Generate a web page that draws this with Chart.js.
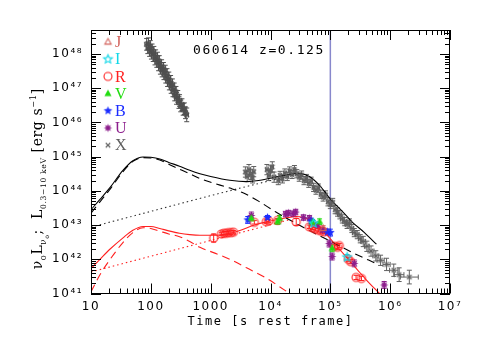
<!DOCTYPE html>
<html><head><meta charset="utf-8">
<script src="https://cdn.jsdelivr.net/npm/chart.js@4/dist/chart.umd.min.js"></script>
<style>html,body{margin:0;padding:0;background:#fff;}canvas{display:block;}</style>
</head><body>
<canvas id="c" width="491" height="360"></canvas>
<script>
// ---------------- DATA (log10 values) ----------------
const xTickValues = [1e1, 1e2, 1e3, 1e4, 1e5, 1e6, 1e7];
const xTickLabels = ['10', '100', '1000', '10⁴', '10⁵', '10⁶', '10⁷'];
const yTickValues = [1e41, 1e42, 1e43, 1e44, 1e45, 1e46, 1e47, 1e48];
const yTickLabels = ['10⁴¹', '10⁴²', '10⁴³', '10⁴⁴', '10⁴⁵', '10⁴⁶', '10⁴⁷', '10⁴⁸'];
const titleText = '060614 z=0.125';
const markerTime = 1e5;

// X-ray, early steep decay
const xEarlyLogT = [1.93,1.95,1.96,1.98,1.99,2.01,2.02,2.04,2.05,2.07,2.08,2.10,2.11,2.13,2.14,2.16,2.18,2.19,2.21,2.22,2.24,2.25,2.27,2.28,2.30,2.31,2.33,2.34,2.36,2.37,2.39,2.40,2.42,2.43,2.45,2.47,2.48,2.50,2.52,2.54,2.56,2.58,2.60];
const xEarlyLogL = [48.28,48.18,48.30,48.10,48.22,48.02,48.12,47.95,48.05,47.85,47.95,47.78,47.88,47.68,47.78,47.58,47.66,47.50,47.58,47.42,47.50,47.32,47.40,47.22,47.30,47.12,47.20,47.02,47.10,46.92,46.98,46.80,46.88,46.70,46.76,46.58,46.64,46.48,46.52,46.38,46.40,46.28,46.22];
const xEarlyErr  = [0.17,0.17,0.17,0.17,0.17,0.17,0.17,0.17,0.17,0.17,0.17,0.17,0.17,0.17,0.17,0.17,0.17,0.17,0.17,0.17,0.17,0.17,0.17,0.17,0.17,0.17,0.17,0.17,0.17,0.17,0.17,0.17,0.17,0.17,0.17,0.17,0.17,0.17,0.17,0.17,0.17,0.17,0.20];
const xEarlyTErr = [0.03,0.03,0.03,0.03,0.03,0.03,0.03,0.03,0.03,0.03,0.03,0.03,0.03,0.03,0.03,0.03,0.03,0.03,0.03,0.03,0.03,0.03,0.03,0.03,0.03,0.03,0.03,0.03,0.03,0.03,0.03,0.03,0.03,0.03,0.03,0.03,0.03,0.03,0.03,0.03,0.03,0.03,0.03];

// X-ray, plateau + late decay
const xLateLogT = [3.58,3.61,3.64,3.67,3.70,3.72,3.94,3.97,4.00,4.03,4.06,4.13,4.16,4.20,4.24,4.28,4.32,4.36,4.40,4.44,4.48,4.52,4.56,4.60,4.64,4.68,4.72,4.76,4.80,4.84,4.88,4.92,4.96,5.00,5.04,5.08,5.12,5.16,5.20,5.24,5.28,5.32,5.36,5.40,5.45,5.50,5.55,5.61,5.68,5.76,5.84,5.94,6.06,6.15,6.32];
const xLateLogL = [44.55,44.42,44.62,44.48,44.38,44.56,44.62,44.45,44.58,44.70,44.40,44.30,44.45,44.35,44.52,44.42,44.58,44.48,44.62,44.50,44.40,44.46,44.30,44.36,44.22,44.28,44.10,44.02,44.08,43.90,43.82,43.88,43.68,43.60,43.66,43.45,43.38,43.30,43.18,43.10,43.02,43.06,42.90,42.78,42.72,42.60,42.52,42.38,42.24,42.10,41.97,41.85,41.68,41.55,41.48];
const xLateErr  = [0.15,0.15,0.15,0.15,0.15,0.15,0.15,0.15,0.15,0.15,0.15,0.12,0.12,0.12,0.12,0.12,0.12,0.12,0.12,0.12,0.12,0.12,0.12,0.12,0.12,0.12,0.12,0.12,0.12,0.12,0.12,0.12,0.12,0.12,0.12,0.12,0.12,0.12,0.12,0.12,0.12,0.12,0.12,0.12,0.12,0.12,0.15,0.15,0.15,0.15,0.15,0.18,0.18,0.20,0.20];
const xLateTErr = [0.02,0.02,0.02,0.02,0.02,0.02,0.02,0.02,0.02,0.02,0.02,0.02,0.02,0.02,0.02,0.02,0.02,0.02,0.02,0.02,0.02,0.02,0.02,0.02,0.02,0.02,0.02,0.02,0.02,0.02,0.02,0.02,0.02,0.02,0.02,0.02,0.02,0.03,0.03,0.03,0.03,0.03,0.03,0.03,0.03,0.03,0.04,0.04,0.05,0.05,0.06,0.06,0.07,0.08,0.15];

// Optical / NIR bands
const rLogT = [3.05,3.18,3.22,3.26,3.30,3.34,3.38,3.73,3.93,3.97,4.12,4.43,4.65,4.70,4.75,4.80,4.85,4.90,5.07,5.12,5.15,5.30,5.34,5.43,5.52];
const rLogL = [42.62,42.74,42.76,42.76,42.78,42.78,42.79,43.08,43.10,43.12,43.14,43.09,42.95,42.92,42.88,42.85,42.82,42.80,42.38,42.35,42.40,42.00,41.93,41.47,41.44];
const rErr  = [0.12,0.05,0.05,0.05,0.05,0.05,0.05,0.05,0.05,0.05,0.05,0.10,0.05,0.05,0.05,0.05,0.05,0.05,0.06,0.06,0.06,0.06,0.06,0.06,0.06];
const vLogT = [3.68,4.12,4.15,4.70,4.82,5.03];
const vLogL = [43.20,43.10,43.20,43.08,43.10,42.32];
const vErr  = [0.08,0.08,0.08,0.08,0.08,0.10];
const bLogT = [3.62,3.95,4.68,4.95,5.00];
const bLogL = [43.15,43.22,43.12,42.80,42.78];
const bErr  = [0.10,0.06,0.08,0.08,0.10];
const uLogT = [3.68,4.25,4.30,4.38,4.42,4.55,4.65,4.78,4.87,4.98,5.03,5.40,5.90];
const uLogL = [43.28,43.32,43.35,43.33,43.38,43.22,43.20,43.00,42.85,42.46,42.08,41.88,41.25];
const uErr  = [0.10,0.08,0.08,0.08,0.08,0.08,0.08,0.08,0.08,0.10,0.10,0.10,0.10];
const iLogT = [4.72,5.28];
const iLogL = [43.05,42.06];
const iErr  = [0.08,0.08];
const jLogT = [4.88];
const jLogL = [42.90];
const jErr  = [0.08];

// Model curves
const mXTotT = [1.0,1.15,1.32,1.53,1.7,1.87,2.0,2.15,2.3,2.48,2.65,2.82,3.0,3.32,3.6,3.8,4.0,4.2,4.4,4.5,4.65,4.82,5.0,5.2,5.37,5.57,5.77];
const mXTotL = [43.45,43.75,44.10,44.59,44.88,44.99,44.98,44.93,44.83,44.72,44.60,44.50,44.42,44.31,44.27,44.30,44.37,44.44,44.50,44.50,44.42,44.16,43.76,43.40,43.08,42.78,42.44];
const mXPromptT = [1.0,1.15,1.32,1.53,1.7,1.87,2.0,2.15,2.3,2.48,2.65,2.82,3.0,3.32,3.53,3.8,4.09,4.5,5.0,5.4,5.76];
const mXPromptL = [43.35,43.68,44.05,44.55,44.86,44.97,44.96,44.90,44.78,44.63,44.50,44.36,44.25,44.08,43.95,43.70,43.38,42.98,42.53,42.17,41.88];
const mXPlatT = [1.0,2.0,3.0,4.0,4.48];
const mXPlatL = [42.94,43.40,43.86,44.30,44.50];
const mOTotT = [1.0,1.15,1.32,1.53,1.7,1.87,2.0,2.15,2.3,2.48,2.65,2.82,3.07,3.32,3.5,3.73,3.95,4.12,4.3,4.43,4.55,4.65,4.82,5.0,5.15,5.3,5.45,5.6,5.82];
const mOTotL = [41.73,42.00,42.30,42.62,42.85,42.96,42.96,42.90,42.83,42.76,42.72,42.70,42.70,42.76,42.85,43.00,43.10,43.16,43.22,43.25,43.22,43.14,42.95,42.60,42.30,42.00,41.70,41.40,41.00];
const mOPromptT = [1.0,1.15,1.32,1.53,1.7,1.87,2.0,2.15,2.3,2.48,2.65,2.82,3.07,3.32,3.6,3.93,4.15,4.32];
const mOPromptL = [41.05,41.55,42.00,42.48,42.78,42.92,42.90,42.82,42.74,42.66,42.52,42.35,42.18,42.00,41.75,41.45,41.20,41.00];
const mOPlatT = [1.0,2.0,3.0,4.0,4.3];
const mOPlatL = [41.63,42.09,42.55,43.01,43.15];

// ---------------- helpers ----------------
const pts = (lt, ll) => lt.map((t, i) => ({ x: Math.pow(10, t), y: Math.pow(10, ll[i]) }));

function marker(kind, color, r) {
  const s = Math.ceil(r * 2 + 4);
  const c = document.createElement('canvas');
  c.width = s; c.height = s;
  const g = c.getContext('2d');
  const cx = s / 2, cy = s / 2;
  g.strokeStyle = color; g.fillStyle = color; g.lineWidth = 1.1;
  const star = (n, ro, ri) => {
    g.beginPath();
    for (let k = 0; k < 2 * n; k++) {
      const rad = k % 2 ? ri : ro;
      const a = -Math.PI / 2 + k * Math.PI / n;
      const px = cx + rad * Math.cos(a), py = cy + rad * Math.sin(a);
      k ? g.lineTo(px, py) : g.moveTo(px, py);
    }
    g.closePath();
  };
  if (kind === 'circle') { g.beginPath(); g.arc(cx, cy, r, 0, Math.PI * 2); g.stroke(); }
  else if (kind === 'triOpen' || kind === 'triFill') {
    g.beginPath(); g.moveTo(cx, cy - r); g.lineTo(cx + r * 0.9, cy + r * 0.6); g.lineTo(cx - r * 0.9, cy + r * 0.6); g.closePath();
    kind === 'triFill' ? g.fill() : g.stroke();
  }
  else if (kind === 'starOpen') { star(5, r, r * 0.45); g.stroke(); }
  else if (kind === 'starFill') { star(5, r, r * 0.45); g.fill(); }
  else if (kind === 'aster') { star(8, r, r * 0.5); g.fill(); }
  else if (kind === 'x') {
    const d = r * 0.75;
    g.beginPath(); g.moveTo(cx - d, cy - d); g.lineTo(cx + d, cy + d); g.moveTo(cx + d, cy - d); g.lineTo(cx - d, cy + d); g.stroke();
  }
  return c;
}

const COL = { J: '#d2605a', I: '#12d8e8', R: '#ff2020', V: '#22dd11', B: '#1a2cff', U: '#8c1e8c', X: '#606060', line: '#8888cc' };

const mk = {
  J: marker('triOpen', COL.J, 3.5), I: marker('starOpen', COL.I, 4.5), R: marker('circle', COL.R, 4),
  V: marker('triFill', COL.V, 4), B: marker('starFill', COL.B, 4.5), U: marker('aster', COL.U, 4.2),
  X: marker('x', COL.X, 3), Xe: marker('x', '#505050', 3)
};

function pointSet(label, lt, ll, err, terr, color, style, legend) {
  return { label, data: pts(lt, ll), yErr: err, xErr: terr, errColor: color, pointStyle: style, showLine: false,
    borderColor: color, backgroundColor: color, order: 0, legend };
}
function lineSet(label, lt, ll, color, dash) {
  return { label, data: pts(lt, ll), showLine: true, pointRadius: 0, borderColor: color, borderWidth: 1.1,
    borderDash: dash, cubicInterpolationMode: 'monotone', order: 1, fill: false };
}

const datasets = [
  pointSet('X-early', xEarlyLogT, xEarlyLogL, xEarlyErr, xEarlyTErr, '#505050', mk.Xe, null),
  pointSet('J', jLogT, jLogL, jErr, null, COL.J, mk.J, 'J'),
  pointSet('I', iLogT, iLogL, iErr, null, COL.I, mk.I, 'I'),
  pointSet('V', vLogT, vLogL, vErr, null, COL.V, mk.V, 'V'),
  pointSet('B', bLogT, bLogL, bErr, null, COL.B, mk.B, 'B'),
  pointSet('U', uLogT, uLogL, uErr, null, COL.U, mk.U, 'U'),
  pointSet('R', rLogT, rLogL, rErr, null, COL.R, mk.R, 'R'),
  pointSet('X', xLateLogT, xLateLogL, xLateErr, xLateTErr, COL.X, mk.X, 'X'),
  lineSet('X total', mXTotT, mXTotL, '#000000', []),
  lineSet('X prompt', mXPromptT, mXPromptL, '#000000', [8, 5]),
  lineSet('X plateau', mXPlatT, mXPlatL, '#333333', [1.5, 3]),
  lineSet('O total', mOTotT, mOTotL, COL.R, []),
  lineSet('O prompt', mOPromptT, mOPromptL, COL.R, [8, 5]),
  lineSet('O plateau', mOPlatT, mOPlatL, COL.R, [1.5, 3]),
];
const legendOrder = ['J', 'I', 'R', 'V', 'B', 'U', 'X'];

// ---------------- plugins ----------------
const decorations = {
  id: 'decorations',
  beforeDraw(chart) { chart.ctx.letterSpacing = '1.5px'; },
  beforeDatasetsDraw(chart) {
    const { ctx, chartArea: a, scales: { x, y } } = chart;
    ctx.save();
    ctx.letterSpacing = '0px';
    ctx.beginPath(); ctx.rect(a.left, a.top, a.right - a.left, a.bottom - a.top); ctx.clip();
    // vertical marker line
    const vx = x.getPixelForValue(markerTime);
    ctx.strokeStyle = COL.line; ctx.lineWidth = 1.5;
    ctx.beginPath(); ctx.moveTo(vx, a.top); ctx.lineTo(vx, a.bottom); ctx.stroke();
    // error bars
    chart.data.datasets.forEach(ds => {
      if (!ds.yErr) return;
      ctx.strokeStyle = ds.errColor; ctx.lineWidth = 1;
      ds.data.forEach((p, j) => {
        const e = ds.yErr[j];
        const px = x.getPixelForValue(p.x), py = y.getPixelForValue(p.y);
        const y1 = y.getPixelForValue(p.y * Math.pow(10, e)), y2 = y.getPixelForValue(p.y / Math.pow(10, e));
        const cap = 2.5;
        ctx.beginPath();
        ctx.moveTo(px, y1); ctx.lineTo(px, y2);
        ctx.moveTo(px - cap, y1); ctx.lineTo(px + cap, y1);
        ctx.moveTo(px - cap, y2); ctx.lineTo(px + cap, y2);
        if (ds.xErr) {
          const xe = ds.xErr[j];
          const x1 = x.getPixelForValue(p.x / Math.pow(10, xe)), x2 = x.getPixelForValue(p.x * Math.pow(10, xe));
          ctx.moveTo(x1, py); ctx.lineTo(x2, py);
          ctx.moveTo(x1, py - cap); ctx.lineTo(x1, py + cap);
          ctx.moveTo(x2, py - cap); ctx.lineTo(x2, py + cap);
        }
        ctx.stroke();
      });
    });
    ctx.restore();
  },
  afterDraw(chart) {
    const { ctx, chartArea: a, scales: { x, y } } = chart;
    ctx.save();
    ctx.letterSpacing = '0px';
    // frame
    ctx.strokeStyle = '#000'; ctx.lineWidth = 1;
    ctx.strokeRect(Math.round(a.left) + 0.5, Math.round(a.top) + 0.5, Math.round(a.right - a.left) - 1, Math.round(a.bottom - a.top) - 1);
    // inward ticks
    ctx.beginPath();
    for (let d = 1; d <= 7; d++) for (let m = 1; m <= 9; m++) {
      const v = m * Math.pow(10, d); if (v > x.max * 1.0001) continue;
      const px = Math.round(x.getPixelForValue(v)) + 0.5, L = m === 1 ? 10 : 5;
      ctx.moveTo(px, a.bottom); ctx.lineTo(px, a.bottom - L);
      ctx.moveTo(px, a.top); ctx.lineTo(px, a.top + L);
    }
    for (let d = 41; d <= 48; d++) for (let m = 1; m <= 9; m++) {
      const v = m * Math.pow(10, d); if (v > y.max) continue;
      const py = Math.round(y.getPixelForValue(v)) + 0.5, L = m === 1 ? 10 : 5;
      ctx.moveTo(a.left, py); ctx.lineTo(a.left + L, py);
      ctx.moveTo(a.right, py); ctx.lineTo(a.right - L, py);
    }
    ctx.stroke();
    // legend
    ctx.textBaseline = 'middle'; ctx.textAlign = 'left';
    ctx.font = '16px "Liberation Serif"';
    legendOrder.forEach((k, i) => {
      const ds = chart.data.datasets.find(d => d.legend === k);
      const ly = a.top + 12 + i * 17.2;
      const img = ds.pointStyle;
      ctx.drawImage(img, a.left + 17 - img.width / 2, ly - img.height / 2);
      ctx.fillStyle = ds.errColor;
      ctx.fillText(k, a.left + 24, ly + 1);
    });
    // title
    ctx.fillStyle = '#000';
    ctx.font = '13px "DejaVu Sans Mono"';
    ctx.letterSpacing = '1.6px';
    ctx.fillText(titleText, a.left + 102, a.top + 21);
    // y-axis title with sub/superscripts
    const segs = [['ν', 1, 0], ['o', 0.6, 4], ['L', 1, 0], ['ν', 0.62, 4], ['o', 0.45, 7], [';', 1, 0], ['  L', 1, 0], ['0.3−10 keV', 0.55, 4], [' [erg s', 1, 0], ['−1', 0.6, -6], [']', 1, 0]];
    const base = 14, fam = '"DejaVu Serif"';
    ctx.letterSpacing = '0.6px';
    let total = 0;
    segs.forEach(s => { ctx.font = (base * s[1]).toFixed(1) + 'px ' + fam; total += ctx.measureText(s[0]).width; });
    ctx.translate(a.left - 49, (a.top + a.bottom) / 2 + 17 + total / 2);
    ctx.rotate(-Math.PI / 2);
    ctx.textBaseline = 'alphabetic';
    let cx = 0;
    segs.forEach(s => {
      ctx.font = (base * s[1]).toFixed(1) + 'px ' + fam;
      ctx.fillText(s[0], cx, s[2]);
      cx += ctx.measureText(s[0]).width;
    });
    ctx.restore();
  }
};

new Chart(document.getElementById('c'), {
  type: 'scatter',
  data: { datasets },
  options: {
    responsive: false, animation: false, events: [],
    layout: { padding: { left: 0, right: 41, top: 30, bottom: 0 } },
    plugins: { legend: { display: false }, tooltip: { enabled: false }, title: { display: false } },
    elements: { point: { radius: 4 }, line: { tension: 0 } },
    scales: {
      x: {
        type: 'logarithmic', min: 10, max: 1e7,
        grid: { display: false, drawTicks: false }, border: { display: false },
        afterBuildTicks: s => { s.ticks = xTickValues.map(v => ({ value: v })); },
        afterFit: s => { s.height = 66.5; },
        ticks: { autoSkip: false, maxRotation: 0, padding: 6, color: '#000',
          font: { family: 'DejaVu Sans', size: 12 },
          callback: v => xTickLabels[xTickValues.indexOf(v)] },
        title: { display: true, text: 'Time [s rest frame]', color: '#000',
          font: { family: 'DejaVu Sans Mono', size: 12 }, padding: { top: 0, bottom: 31 } }
      },
      y: {
        type: 'logarithmic', min: 1e41, max: Math.pow(10, 48.7),
        grid: { display: false, drawTicks: false }, border: { display: false },
        afterBuildTicks: s => { s.ticks = yTickValues.map(v => ({ value: v })); },
        afterFit: s => { s.width = 91; },
        ticks: { autoSkip: false, padding: 8, color: '#000',
          font: { family: 'DejaVu Sans', size: 12 },
          callback: v => yTickLabels[yTickValues.indexOf(v)] }
      }
    }
  },
  plugins: [decorations]
});
</script>
</body></html>
